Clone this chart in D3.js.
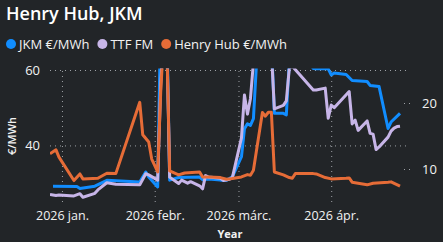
<!DOCTYPE html>
<html><head><meta charset="utf-8">
<script src="https://cdn.jsdelivr.net/npm/d3@7"></script>
<style>
html,body{margin:0;padding:0;background:#222528;}
svg{display:block;font-family:"Open Sans",sans-serif;}
</style></head><body>
<div id="chart"></div>
<script>
const seriesNames = ["JKM €/MWh", "TTF FM", "Henry Hub €/MWh"];
const seriesColors = ["#118DFF", "#C7B5E8", "#E66C37"];
const leftTicks = [40, 60];
const rightTicks = [10, 20];
const monthTicks = ["2026-01-01", "2026-02-01", "2026-03-01", "2026-04-01"];
const monthLabels = ["2026 jan.", "2026 febr.", "2026 márc.", "2026 ápr."];

// JKM, left axis
const jkm = [
  ["2025-12-29", 29.2], ["2026-01-06", 29.1], ["2026-01-07", 28.6], ["2026-01-12", 29.2],
  ["2026-01-16", 30.75], ["2026-01-27", 30.3], ["2026-01-29", 32.95], ["2026-01-30", 31.6],
  ["2026-02-02", 29.0], ["2026-02-03", 75], ["2026-02-04", 75], ["2026-02-05", 75],
  ["2026-02-06", 30.8], ["2026-02-09", 31.5], ["2026-02-16", 31.6], ["2026-02-17", 30.9],
  ["2026-02-19", 31.1], ["2026-02-23", 30.8], ["2026-02-25", 30.8], ["2026-02-27", 31.7],
  ["2026-03-02", 37.0], ["2026-03-03", 44.4], ["2026-03-04", 45.75], ["2026-03-05", 45.3],
  ["2026-03-06", 47.1], ["2026-03-09", 90], ["2026-03-10", 85], ["2026-03-11", 80],
  ["2026-03-12", 67.6], ["2026-03-13", 48.5], ["2026-03-16", 48.5], ["2026-03-17", 48.1],
  ["2026-03-18", 62.5], ["2026-03-19", 64], ["2026-03-20", 65], ["2026-03-23", 64],
  ["2026-03-24", 63], ["2026-03-25", 61.5], ["2026-03-26", 60.4], ["2026-03-27", 60.3],
  ["2026-03-30", 60.4], ["2026-03-31", 60.3], ["2026-04-01", 58.7], ["2026-04-02", 59.2],
  ["2026-04-06", 58.8], ["2026-04-08", 57.2], ["2026-04-13", 56.95], ["2026-04-14", 55.9],
  ["2026-04-17", 55.6], ["2026-04-20", 44.5], ["2026-04-21", 46.2], ["2026-04-24", 48.5]
];

// TTF front month, left axis
const ttf = [
  ["2025-12-28", 27.0], ["2025-12-30", 26.7], ["2025-12-31", 26.85], ["2026-01-05", 26.6],
  ["2026-01-07", 27.2], ["2026-01-08", 26.25], ["2026-01-12", 27.3], ["2026-01-13", 28.2],
  ["2026-01-16", 30.1], ["2026-01-19", 29.7], ["2026-01-27", 29.55], ["2026-01-29", 32.5],
  ["2026-01-30", 32.2], ["2026-02-02", 30.8], ["2026-02-03", 56], ["2026-02-04", 70],
  ["2026-02-05", 70], ["2026-02-06", 31.6], ["2026-02-09", 29.9], ["2026-02-10", 30.8],
  ["2026-02-11", 30.4], ["2026-02-12", 30.0], ["2026-02-13", 30.4], ["2026-02-16", 29.3],
  ["2026-02-17", 28.5], ["2026-02-18", 32.0], ["2026-02-19", 31.6], ["2026-02-23", 31.3],
  ["2026-02-24", 30.7], ["2026-02-26", 31.0], ["2026-02-27", 31.6], ["2026-03-02", 42.0],
  ["2026-03-03", 53.4], ["2026-03-04", 48.3], ["2026-03-05", 52.4], ["2026-03-06", 62],
  ["2026-03-09", 95], ["2026-03-10", 90], ["2026-03-11", 85], ["2026-03-12", 65],
  ["2026-03-13", 49.7], ["2026-03-16", 50.6], ["2026-03-17", 51.8], ["2026-03-18", 60.5],
  ["2026-03-19", 61], ["2026-03-26", 54.7], ["2026-03-27", 54.7], ["2026-03-30", 55.2],
  ["2026-03-31", 47.2], ["2026-04-01", 50.7], ["2026-04-02", 50.0], ["2026-04-07", 54.3],
  ["2026-04-08", 45.7], ["2026-04-09", 46.7], ["2026-04-10", 44.0], ["2026-04-13", 46.5],
  ["2026-04-14", 43.2], ["2026-04-15", 43.0], ["2026-04-16", 38.9], ["2026-04-17", 39.6],
  ["2026-04-20", 42.2], ["2026-04-21", 43.8], ["2026-04-22", 44.6], ["2026-04-23", 45.0],
  ["2026-04-24", 45.1]
];

// Henry Hub, right axis
const henryHub = [
  ["2025-12-28", 12.3], ["2025-12-30", 12.9], ["2025-12-31", 11.8], ["2026-01-05", 8.25],
  ["2026-01-07", 9.25], ["2026-01-08", 8.5], ["2026-01-13", 8.6], ["2026-01-16", 9.35],
  ["2026-01-19", 9.3], ["2026-01-27", 20.1], ["2026-01-28", 15.2], ["2026-01-30", 14.1],
  ["2026-01-31", 11.5], ["2026-02-02", 9.55], ["2026-02-03", 21.6], ["2026-02-04", 30],
  ["2026-02-05", 30], ["2026-02-06", 9.7], ["2026-02-09", 9.1], ["2026-02-11", 9.4],
  ["2026-02-16", 9.55], ["2026-02-17", 8.8], ["2026-02-19", 8.8], ["2026-02-23", 8.7],
  ["2026-02-25", 8.45], ["2026-02-27", 8.55], ["2026-03-02", 8.8], ["2026-03-04", 9.15],
  ["2026-03-05", 9.05], ["2026-03-06", 9.8], ["2026-03-09", 18.55], ["2026-03-10", 18.0],
  ["2026-03-11", 18.6], ["2026-03-12", 18.6], ["2026-03-13", 9.55], ["2026-03-16", 9.1],
  ["2026-03-18", 8.7], ["2026-03-19", 8.6], ["2026-03-20", 9.3], ["2026-03-26", 9.3],
  ["2026-03-27", 9.25], ["2026-03-30", 8.7], ["2026-04-01", 8.5], ["2026-04-06", 8.6],
  ["2026-04-07", 8.65], ["2026-04-08", 8.0], ["2026-04-13", 7.6], ["2026-04-15", 7.85],
  ["2026-04-20", 8.0], ["2026-04-21", 8.05], ["2026-04-24", 7.4]
];

const parse = d3.timeParse("%Y-%m-%d");
const W = 443, H = 242;
const plot = {left: 50, right: 406, top: 70, bottom: 202};

const svg = d3.select("#chart").append("svg").attr("width", W).attr("height", H);
svg.append("rect").attr("width", W).attr("height", H).attr("fill", "#222528");

const x = d3.scaleTime().domain([parse("2025-12-28"), parse("2026-04-26")]).range([plot.left, plot.right]);
const yL = d3.scaleLinear().domain([25, 60]).range([plot.bottom, plot.top]);
const yR = d3.scaleLinear().domain([5, 25]).range([plot.bottom, plot.top]);

const gridColor = "#9da1a6";

// vertical grid at month starts
svg.append("g").attr("transform", `translate(0,${plot.bottom})`)
  .call(d3.axisBottom(x).tickValues(monthTicks.map(parse)).tickSize(-(plot.bottom - plot.top)).tickFormat(""))
  .call(g => g.select(".domain").remove())
  .call(g => g.selectAll("line").attr("stroke", gridColor).attr("stroke-dasharray", "1,4"));

// month labels
svg.append("g").attr("transform", `translate(0,${plot.bottom})`)
  .call(d3.axisBottom(x).tickValues(monthTicks.map(parse)).tickSize(0).tickPadding(9)
    .tickFormat((d, i) => monthLabels[i]))
  .call(g => g.select(".domain").remove())
  .call(g => g.selectAll("text").attr("fill", "#f2f2f2").style("font-size", "12.5px").style("font-family", "Open Sans"));

// left axis + horizontal grid
svg.append("g").attr("transform", `translate(${plot.left},0)`)
  .call(d3.axisLeft(yL).tickValues(leftTicks).tickSize(-(plot.right - plot.left)).tickPadding(10))
  .call(g => g.select(".domain").remove())
  .call(g => g.selectAll("line").attr("stroke", gridColor).attr("stroke-dasharray", "1,4"))
  .call(g => g.selectAll("text").attr("fill", "#f2f2f2").style("font-size", "13px").style("font-family", "Open Sans"));

// right axis, short dotted ticks only
svg.append("g").attr("transform", `translate(${plot.right - 2},0)`)
  .call(d3.axisRight(yR).tickValues(rightTicks).tickSize(7).tickPadding(11))
  .call(g => g.select(".domain").remove())
  .call(g => g.selectAll("line").attr("stroke", gridColor).attr("stroke-dasharray", "1,4"))
  .call(g => g.selectAll("text").attr("fill", "#f2f2f2").style("font-size", "13px").style("font-family", "Open Sans"));

// lines
svg.append("clipPath").attr("id", "clip").append("rect")
  .attr("x", plot.left).attr("y", plot.top - 1.5)
  .attr("width", plot.right - plot.left).attr("height", plot.bottom - plot.top + 3);

const lineL = d3.line().x(d => x(parse(d[0]))).y(d => yL(d[1]));
const lineR = d3.line().x(d => x(parse(d[0]))).y(d => yR(d[1]));

const lines = svg.append("g").attr("clip-path", "url(#clip)");
[[jkm, lineL], [ttf, lineL], [henryHub, lineR]].forEach(([data, gen], i) => {
  lines.append("path").datum(data)
    .attr("d", gen)
    .attr("fill", "none")
    .attr("stroke", seriesColors[i])
    .attr("stroke-width", 3)
    .attr("stroke-linejoin", "round");
});

// title
svg.append("text").attr("x", 6).attr("y", 19.5)
  .attr("fill", "#ffffff").style("font-size", "18px").style("font-weight", 600)
  .text("Henry Hub, JKM");

// legend
let lx = 6;
seriesNames.forEach((name, i) => {
  svg.append("circle").attr("cx", lx + 5).attr("cy", 44).attr("r", 5).attr("fill", seriesColors[i]);
  const t = svg.append("text").attr("x", lx + 13).attr("y", 48.6)
    .attr("fill", "#f2f2f2").style("font-size", "13px").text(name);
  lx += 13 + t.node().getComputedTextLength() + 8;
});

// axis titles
svg.append("text")
  .attr("transform", `translate(16,${(plot.top + plot.bottom) / 2}) rotate(-90)`)
  .attr("text-anchor", "middle")
  .attr("fill", "#f2f2f2").style("font-size", "11px").style("font-weight", 600)
  .text("€/MWh");

svg.append("text").attr("x", (plot.left + plot.right) / 2 + 2).attr("y", 238)
  .attr("text-anchor", "middle")
  .attr("fill", "#f2f2f2").style("font-size", "11px").style("font-weight", 700)
  .text("Year");
</script>
</body></html>
